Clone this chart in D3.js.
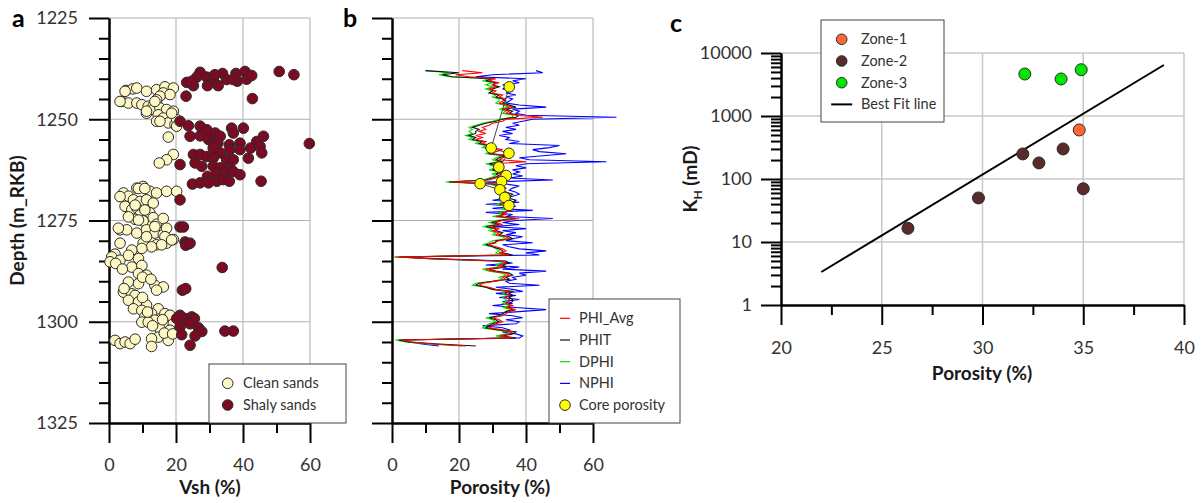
<!DOCTYPE html>
<html>
<head>
<meta charset="utf-8">
<script src="https://cdn.jsdelivr.net/npm/d3@7/dist/d3.min.js"></script>
<style>
body { margin: 0; background: #fff; }
svg { font-family: Lato, 'Open Sans', sans-serif; }
</style>
</head>
<body>
<svg id="grafico" width="1201" height="503"></svg>
<script>
// ---- panel a : Vsh vs depth ----
const cleanDepth = [1242.9, 1242.5, 1242.3, 1243.1, 1242.7, 1242.0, 1242.3, 1243.5, 1243.9, 1244.3, 1245.6, 1246.0, 1246.0, 1246.4, 1246.8, 1246.6, 1245.2, 1248.5, 1247.6, 1247.2, 1247.6, 1248.0, 1248.9, 1250.5, 1249.7, 1250.9, 1251.3, 1250.1, 1254.4, 1258.7, 1260.0, 1260.8, 1243.1, 1245.6, 1245.6, 1248.0, 1250.5, 1251.7, 1248.5,
    1266.6, 1267.0, 1267.8, 1268.2, 1267.8, 1267.8, 1268.2, 1269.0, 1269.9, 1270.3, 1269.9, 1270.7, 1271.5, 1272.3, 1271.9, 1273.6, 1273.1, 1274.7, 1275.1, 1274.3, 1275.9, 1277.3, 1277.3, 1278.1, 1277.3, 1278.1, 1278.5, 1279.7, 1280.6, 1281.0, 1280.6,
    1269.1, 1267.1, 1267.1, 1271.2, 1272.4, 1274.1, 1274.9, 1274.5, 1276.9, 1279.0, 1276.5, 1276.9, 1279.0, 1279.8, 1281.0, 1281.5, 1281.9, 1282.3, 1283.3, 1280.6,
    1284.0, 1284.8, 1283.6, 1284.4, 1286.5, 1286.1, 1288.1, 1288.5, 1290.2, 1290.6, 1291.0, 1291.4, 1292.2, 1292.7, 1293.1, 1293.5, 1294.7, 1295.1, 1295.9, 1296.8, 1297.2, 1296.8, 1298.0, 1298.0, 1298.4, 1298.8, 1299.6, 1300.1, 1300.1, 1300.5, 1301.7, 1302.1, 1303.8, 1304.6, 1304.2, 1306.1, 1304.6, 1305.4, 1305.0, 1305.4, 1304.3,
    1285.2, 1285.6, 1289.0, 1289.5, 1287.0, 1297.6, 1299.5, 1302.8, 1301.0, 1303.0, 1294.0, 1291.8];
const cleanVsh = [5.1, 7.1, 8.3, 11.2, 14.2, 16.7, 19.2, 16.2, 18.2, 15.2, 3.8, 5.8, 8.3, 9.8, 11.7, 13.2, 14.2, 11.2, 13.2, 15.2, 17.2, 19.2, 14.7, 14.2, 16.2, 17.7, 19.7, 20.2, 17.7, 19.2, 17.2, 15.0, 4.8, 3.3, 13.7, 11.2, 15.2, 20.2, 18.7,
    10.2, 8.3, 12.2, 14.2, 17.2, 20.2, 4.3, 5.8, 7.3, 9.3, 11.2, 13.2, 4.8, 6.8, 8.3, 9.3, 12.2, 7.8, 10.2, 13.2, 14.2, 3.3, 5.3, 8.3, 11.2, 13.7, 16.2, 19.2, 10.2, 14.2, 17.2,
    3.3, 8.8, 10.7, 7.8, 10.7, 5.8, 8.8, 16.2, 2.8, 11.2, 13.7, 17.2, 16.7, 18.7, 15.7, 12.7, 9.8, 6.8, 1.8, 3.3,
    0.8, 3.3, 5.8, 8.8, 6.8, 9.8, 8.8, 11.2, 5.8, 8.8, 13.7, 16.2, 14.2, 4.3, 6.8, 7.8, 5.8, 8.8, 11.2, 7.3, 9.8, 14.7, 12.7, 16.7, 18.2, 10.7, 13.7, 9.8, 11.7, 19.2, 15.2, 18.2, 14.7, 17.7, 12.7, 12.7, 1.8, 3.3, 4.8, 6.3, 7.8,
    0.3, 2.0, 10.0, 12.5, 4.0, 11.5, 16.0, 16.5, 13.0, 19.0, 10.0, 4.5];

const shalyDepth = [1238.4, 1240.9, 1241.7, 1239.6, 1240.1, 1241.7, 1241.7, 1238.7, 1240.2, 1238.7, 1240.6, 1238.2, 1240.1, 1239.2, 1238.2, 1239.0, 1244.3, 1244.9, 1239.6, 1240.2, 1239.0, 1240.6,
    1250.5, 1251.6, 1251.7, 1252.6, 1254.2, 1254.1, 1255.0, 1253.4, 1254.2, 1255.9, 1255.9, 1252.2, 1253.4, 1252.2, 1254.2, 1255.5, 1256.3, 1255.9, 1257.1, 1256.7, 1256.0, 1257.5, 1257.5, 1258.3, 1259.6, 1257.1, 1258.3, 1258.7, 1258.7, 1259.2, 1259.6, 1260.0, 1260.0, 1261.2, 1260.8, 1261.6, 1261.6, 1262.0, 1262.0, 1263.3, 1263.3, 1262.9, 1263.7, 1264.1, 1265.3, 1264.9, 1265.3, 1266.0, 1265.7, 1265.7, 1265.3,
    1269.9, 1276.6, 1276.6, 1280.3, 1280.8, 1281.1, 1280.6, 1286.6, 1292.2, 1291.8,
    1298.4, 1299.2, 1298.8, 1299.2, 1301.3, 1300.5, 1301.5, 1302.4, 1303.2, 1303.5, 1305.8, 1302.3, 1302.3, 1299.2];
const shalyVsh = [27.2, 23.2, 25.2, 29.2, 31.1, 29.4, 32.6, 33.9, 35.1, 37.9, 38.3, 40.6, 41.1, 42.6, 50.8, 55.2, 23.0, 42.8, 26.2, 37.1, 31.6, 24.7,
    21.2, 23.7, 27.2, 29.2, 24.2, 27.2, 29.7, 31.7, 33.2, 31.1, 32.5, 36.6, 37.1, 40.1, 46.1, 44.1, 35.9, 39.1, 42.3, 45.1, 59.8, 36.1, 39.1, 45.6, 41.6, 31.1, 33.2, 25.2, 27.2, 29.2, 31.1, 35.1, 37.1, 21.2, 25.7, 27.7, 31.1, 33.2, 36.1, 32.2, 34.6, 37.1, 39.1, 29.4, 32.2, 34.1, 35.9, 24.9, 27.2, 29.7, 45.4,
    21.2, 21.2, 22.2, 22.7, 23.7, 22.9, 24.2, 33.8, 21.9, 22.9,
    21.2, 22.7, 24.7, 25.5, 21.2, 24.2, 26.7, 27.7, 21.7, 25.7, 24.2, 34.6, 37.1, 20.2];

// ---- panel b : porosity logs ----
const logDepth = [1238.0, 1238.5, 1239.0, 1239.5, 1240.0, 1240.5, 1241.0, 1241.5, 1242.0, 1242.5, 1243.0, 1243.5, 1244.0, 1244.5, 1245.0, 1245.5, 1246.0, 1246.5, 1247.0, 1247.5, 1248.0, 1248.5, 1249.0, 1249.5, 1250.0, 1250.5, 1251.0, 1251.5, 1252.0, 1252.5, 1253.0, 1253.5, 1254.0, 1254.5, 1255.0, 1255.5, 1256.0, 1256.5, 1257.0, 1257.5, 1258.0, 1258.5, 1259.0, 1259.5, 1260.0, 1260.5, 1261.0, 1261.5, 1262.0, 1262.5, 1263.0, 1263.5, 1264.0, 1264.5, 1265.0, 1265.5, 1266.0, 1266.5, 1267.0, 1267.5, 1268.0, 1268.5, 1269.0, 1269.5, 1270.0, 1270.5, 1271.0, 1271.5, 1272.0, 1272.5, 1273.0, 1273.5, 1274.0, 1274.5, 1275.0, 1275.5, 1276.0, 1276.5, 1277.0, 1277.5, 1278.0, 1278.5, 1279.0, 1279.5, 1280.0, 1280.5, 1281.0, 1281.5, 1282.0, 1282.5, 1283.0, 1283.5, 1284.0, 1284.5, 1285.0, 1285.5, 1286.0, 1286.5, 1287.0, 1287.5, 1288.0, 1288.5, 1289.0, 1289.5, 1290.0, 1290.5, 1291.0, 1291.5, 1292.0, 1292.5, 1293.0, 1293.5, 1294.0, 1294.5, 1295.0, 1295.5, 1296.0, 1296.5, 1297.0, 1297.5, 1298.0, 1298.5, 1299.0, 1299.5, 1300.0, 1300.5, 1301.0, 1301.5, 1302.0, 1302.5, 1303.0, 1303.5, 1304.0, 1304.5, 1305.0, 1305.5, 1306.0];
const phiAvg = [21, 27, 19, 23, 31, 29, 32, 30, 31, 29, 31, 30, 33, 32, 34, 33, 32, 34, 36, 33, 35, 34, 37, 45, 34, 33, 30, 29, 27, 28, 26, 28, 25, 27, 25, 28, 27, 30, 29, 33, 31, 30, 36, 33, 32, 40, 30, 32, 33, 31, 34, 32, 33, 31, 29, 18, 31, 33, 34, 32, 33, 35, 34, 33, 35, 34, 32, 35, 34, 36, 33, 34, 31, 38, 33, 31, 33, 29, 32, 30, 32, 31, 34, 35, 32, 30, 29, 31, 33, 34, 32, 35, 1, 14, 33, 34, 32, 33, 28, 30, 34, 35, 33, 34, 31, 27, 26, 29, 31, 35, 34, 35, 34, 35, 35, 34, 36, 34, 37, 35, 34, 33, 30, 32, 33, 31, 30, 29, 33, 36, 35, 32, 36, 3, 6, 12, 22];
const phit = [10, 20, 15, 18, 30, 28, 31, 30, 32, 30, 30, 29, 32, 31, 33, 34, 33, 35, 37, 34, 36, 35, 38, 37, 33, 31, 28, 26, 24, 26, 25, 25, 23, 25, 24, 27, 26, 29, 28, 31, 30, 29, 34, 32, 31, 33, 29, 31, 32, 30, 33, 31, 32, 30, 28, 17, 30, 32, 33, 33, 34, 36, 35, 35, 37, 36, 34, 36, 35, 35, 34, 33, 32, 37, 32, 30, 32, 28, 31, 31, 33, 32, 35, 36, 31, 31, 28, 30, 32, 33, 33, 36, 2, 16, 34, 35, 33, 34, 29, 31, 35, 36, 34, 35, 30, 26, 25, 28, 30, 36, 35, 36, 35, 36, 36, 35, 35, 35, 36, 34, 33, 32, 29, 31, 32, 30, 29, 28, 32, 37, 36, 33, 37, 2, 5, 14, 25];
const dphi = [10, 17, 14, 17, 29, 27, 30, 28, 30, 28, 30, 29, 31, 30, 32, 32, 31, 33, 35, 32, 34, 33, 36, 36, 32, 30, 27, 25, 23, 24, 23, 24, 22, 24, 23, 26, 25, 28, 27, 30, 29, 28, 33, 31, 30, 32, 28, 30, 31, 29, 32, 30, 31, 29, 27, 16, 29, 31, 32, 31, 32, 34, 33, 32, 34, 33, 31, 34, 33, 35, 32, 33, 30, 36, 31, 29, 31, 27, 30, 29, 31, 30, 33, 34, 30, 29, 27, 30, 31, 32, 31, 34, 0.5, 13, 32, 33, 31, 32, 27, 29, 33, 34, 32, 33, 30, 25, 24, 28, 30, 34, 33, 34, 33, 34, 34, 33, 35, 33, 36, 34, 33, 32, 28, 30, 31, 29, 28, 27, 31, 35, 34, 31, 35, 1, 4, 11, 21];
const nphi = [43, 45, 30, 25, 40, 36, 38, 33, 35, 33, 36, 34, 37, 34, 36, 35, 34, 38, 46, 36, 38, 37, 40, 67, 42, 39, 36, 38, 34, 37, 33, 36, 32, 35, 34, 38, 35, 50, 47, 42, 44, 52, 45, 38, 41, 64, 40, 37, 40, 36, 38, 36, 39, 35, 48, 28, 34, 38, 36, 35, 37, 38, 36, 34, 30, 38, 28, 37, 30, 42, 28, 36, 34, 48, 37, 33, 38, 30, 40, 33, 37, 34, 39, 36, 34, 42, 33, 35, 38, 46, 40, 44, 3, 12, 30, 36, 28, 38, 33, 46, 38, 40, 36, 37, 34, 35, 44, 31, 36, 39, 31, 37, 32, 38, 33, 36, 30, 37, 46, 38, 29, 36, 39, 34, 38, 37, 27, 33, 35, 33, 37, 39, 38, 4, 5, 9, 14];

const coreDepth = [1242.0, 1257.1, 1258.4, 1261.8, 1263.9, 1265.4, 1265.9, 1267.4, 1269.3, 1271.3];
const corePhi = [35.0, 29.6, 34.9, 31.9, 34.1, 32.7, 26.3, 32.2, 33.7, 34.9];

// ---- panel c : permeability vs porosity ----
const zone1Phi = [34.8];
const zone1K = [600];
const zone2Phi = [26.3, 29.8, 32.0, 32.8, 34.0, 35.0];
const zone2K = [16.5, 50, 250, 180, 300, 70];
const zone3Phi = [32.1, 33.9, 34.9];
const zone3K = [4640, 3870, 5430];
const fitPhi = [22, 39];
const fitK = [3.34, 6450];

const svg = d3.select('#grafico');

function estiloEixo(g) {
    g.attr('font-family', null).attr('font-size', 18);
    g.select('.domain').attr('stroke', '#000').attr('stroke-width', 2);
    g.selectAll('.tick line').attr('stroke', '#000').attr('stroke-width', 2);
    g.selectAll('.tick text').attr('fill', '#333');
}

function pontos(grupo, xs, ys, fnX, fnY, cor, raio) {
    grupo.append('g')
        .selectAll('circle')
        .data(xs.map((x, i) => [x, ys[i]]))
        .enter()
        .append('circle')
        .attr('cx', d => fnX(d[0]))
        .attr('cy', d => fnY(d[1]))
        .attr('r', raio)
        .attr('fill', cor)
        .attr('stroke', '#2a2a2a')
        .attr('stroke-width', 1);
}

function legenda(x, y, w, h, itens) {
    let g = svg.append('g');
    g.append('rect')
        .attr('x', x).attr('y', y).attr('width', w).attr('height', h)
        .attr('fill', '#fff').attr('stroke', '#444').attr('stroke-width', 1);
    itens.forEach((it, i) => {
        let cy = y + it.y0 + i * 21.7;
        if (it.tipo === 'ponto') {
            g.append('circle').attr('cx', x + it.mx).attr('cy', cy).attr('r', it.r)
                .attr('fill', it.cor).attr('stroke', '#2a2a2a').attr('stroke-width', 1);
        } else {
            g.append('line').attr('x1', x + it.mx - it.lw).attr('x2', x + it.mx + it.lw)
                .attr('y1', cy).attr('y2', cy).attr('stroke', it.cor).attr('stroke-width', it.sw || 1.2);
        }
        g.append('text').attr('x', x + it.tx).attr('y', cy).attr('dy', '0.35em')
            .attr('font-size', 14.5).attr('fill', '#333').text(it.nome);
    });
}

// depth scale shared by panels a and b
const fnDepth = d3.scaleLinear().domain([1225, 1325]).range([18, 423]);
const majorDepth = [1225, 1250, 1275, 1300, 1325];
const minorDepth = [1230, 1235, 1240, 1245, 1255, 1260, 1265, 1270, 1280, 1285, 1290, 1295, 1305, 1310, 1315, 1320];

function painelProfundidade(x0, fnX, rotulos, tituloX, tituloXPos) {
    let g = svg.append('g');
    // grid
    [20, 40, 60].forEach(v => {
        g.append('line').attr('x1', fnX(v)).attr('x2', fnX(v)).attr('y1', fnDepth(1225)).attr('y2', fnDepth(1325))
            .attr('stroke', '#c8c8c8').attr('stroke-width', 1.5);
    });
    [1225, 1250, 1275, 1300].forEach(v => {
        g.append('line').attr('x1', fnX(0)).attr('x2', fnX(60)).attr('y1', fnDepth(v)).attr('y2', fnDepth(v))
            .attr('stroke', '#b0b0b0').attr('stroke-width', 1.2);
    });
    // axes
    g.append('g').attr('transform', 'translate(0,' + fnDepth(1325) + ')')
        .call(d3.axisBottom(fnX).tickValues([10, 30, 50]).tickSize(10).tickSizeOuter(0).tickFormat(''))
        .call(estiloEixo);
    g.append('g').attr('transform', 'translate(0,' + fnDepth(1325) + ')')
        .call(d3.axisBottom(fnX).tickValues([0, 20, 40, 60]).tickSize(20).tickPadding(15).tickSizeOuter(0).tickFormat(d3.format('d')))
        .call(estiloEixo);
    g.append('g').attr('transform', 'translate(' + x0 + ',0)')
        .call(d3.axisLeft(fnDepth).tickValues(minorDepth).tickSize(10).tickSizeOuter(0).tickFormat(''))
        .call(estiloEixo);
    g.append('g').attr('transform', 'translate(' + x0 + ',0)')
        .call(d3.axisLeft(fnDepth).tickValues(majorDepth).tickSize(20).tickPadding(11).tickSizeOuter(0)
            .tickFormat(rotulos ? d3.format('d') : ''))
        .call(estiloEixo);
    svg.append('text').attr('x', tituloXPos).attr('y', 494).attr('text-anchor', 'middle')
        .attr('font-size', 19).attr('font-weight', 'bold').attr('fill', '#1a1a1a').text(tituloX);
    return g;
}

// ---- panel a ----
const fnXa = d3.scaleLinear().domain([0, 60]).range([109, 310]);
let ga = painelProfundidade(109, fnXa, true, 'Vsh (%)', 210);
pontos(ga, cleanVsh, cleanDepth, fnXa, fnDepth, '#fdf8c6', 5.3);
pontos(ga, shalyVsh, shalyDepth, fnXa, fnDepth, '#7c0a22', 5.3);
svg.append('text').attr('transform', 'translate(24,' + fnDepth(1275) + ') rotate(-90)')
    .attr('text-anchor', 'middle').attr('font-size', 19).attr('font-weight', 'bold').attr('fill', '#1a1a1a')
    .text('Depth (m_RKB)');
svg.append('text').attr('x', 12).attr('y', 27).attr('font-size', 25).attr('font-weight', 'bold').text('a');
legenda(209, 364, 137, 59, [
    { tipo: 'ponto', nome: 'Clean sands', cor: '#fdf8c6', r: 5.3, mx: 18.7, tx: 34, y0: 19.3 },
    { tipo: 'ponto', nome: 'Shaly sands', cor: '#7c0a22', r: 5.3, mx: 18.7, tx: 34, y0: 19.3 }
]);

// ---- panel b ----
const fnXb = d3.scaleLinear().domain([0, 60]).range([392, 593]);
let gb = painelProfundidade(392, fnXb, false, 'Porosity (%)', 500);
const curvas = [
    { valores: nphi, cor: '#0000ff' },
    { valores: dphi, cor: '#00e000' },
    { valores: phit, cor: '#111111' },
    { valores: phiAvg, cor: '#ff0000' }
];
curvas.forEach(c => {
    gb.append('path')
        .datum(logDepth.map((d, i) => [c.valores[i], d]))
        .attr('fill', 'none')
        .attr('stroke', c.cor)
        .attr('stroke-width', 1.1)
        .attr('d', d3.line().x(d => fnXb(d[0])).y(d => fnDepth(d[1])));
});
gb.append('path')
    .datum(coreDepth.map((d, i) => [corePhi[i], d]))
    .attr('fill', 'none').attr('stroke', '#444').attr('stroke-width', 1)
    .attr('d', d3.line().x(d => fnXb(d[0])).y(d => fnDepth(d[1])));
pontos(gb, corePhi, coreDepth, fnXb, fnDepth, '#ffff00', 5.3);
svg.append('text').attr('x', 343).attr('y', 27).attr('font-size', 25).attr('font-weight', 'bold').text('b');
legenda(549, 299, 131, 124, [
    { tipo: 'linha', nome: 'PHI_Avg', cor: '#ff0000', mx: 16, lw: 5, tx: 30, y0: 19.3 },
    { tipo: 'linha', nome: 'PHIT', cor: '#111111', mx: 16, lw: 5, tx: 30, y0: 19.3 },
    { tipo: 'linha', nome: 'DPHI', cor: '#00e000', mx: 16, lw: 5, tx: 30, y0: 19.3 },
    { tipo: 'linha', nome: 'NPHI', cor: '#0000ff', mx: 16, lw: 5, tx: 30, y0: 19.3 },
    { tipo: 'ponto', nome: 'Core porosity', cor: '#ffff00', r: 5.3, mx: 16, tx: 30, y0: 19.3 }
]);

// ---- panel c ----
const fnXc = d3.scaleLinear().domain([20, 40]).range([781, 1184]);
const fnYc = d3.scaleLog().domain([1, 10000]).range([305, 53]);
let gc = svg.append('g');
[25, 30, 35, 40].forEach(v => {
    gc.append('line').attr('x1', fnXc(v)).attr('x2', fnXc(v)).attr('y1', fnYc(1)).attr('y2', fnYc(10000))
        .attr('stroke', '#c8c8c8').attr('stroke-width', 1.5);
});
[10, 100, 1000, 10000].forEach(v => {
    gc.append('line').attr('x1', fnXc(20)).attr('x2', fnXc(40)).attr('y1', fnYc(v)).attr('y2', fnYc(v))
        .attr('stroke', '#c8c8c8').attr('stroke-width', 1.5);
});
const menoresK = [];
[1, 10, 100, 1000].forEach(dec => [2, 3, 4, 5, 6, 7, 8, 9].forEach(m => menoresK.push(dec * m)));
gc.append('g').attr('transform', 'translate(0,' + fnYc(1) + ')')
    .call(d3.axisBottom(fnXc).tickValues([22.5, 27.5, 32.5, 37.5]).tickSize(10).tickSizeOuter(0).tickFormat(''))
    .call(estiloEixo);
gc.append('g').attr('transform', 'translate(0,' + fnYc(1) + ')')
    .call(d3.axisBottom(fnXc).tickValues([20, 25, 30, 35, 40]).tickSize(20).tickPadding(16).tickSizeOuter(0).tickFormat(d3.format('d')))
    .call(estiloEixo);
gc.append('g').attr('transform', 'translate(' + fnXc(20) + ',0)')
    .call(d3.axisLeft(fnYc).tickValues(menoresK).tickSize(10).tickSizeOuter(0).tickFormat(''))
    .call(estiloEixo);
gc.append('g').attr('transform', 'translate(' + fnXc(20) + ',0)')
    .call(d3.axisLeft(fnYc).tickValues([1, 10, 100, 1000, 10000]).tickSize(20).tickPadding(9).tickSizeOuter(0).tickFormat(d3.format('d')))
    .call(estiloEixo);
gc.append('path')
    .datum(fitPhi.map((p, i) => [p, fitK[i]]))
    .attr('fill', 'none').attr('stroke', '#000').attr('stroke-width', 2)
    .attr('d', d3.line().x(d => fnXc(d[0])).y(d => fnYc(d[1])));
pontos(gc, zone2Phi, zone2K, fnXc, fnYc, '#5a2b29', 6);
pontos(gc, zone1Phi, zone1K, fnXc, fnYc, '#ff6633', 6);
pontos(gc, zone3Phi, zone3K, fnXc, fnYc, '#00e600', 6);
svg.append('text').attr('x', 982).attr('y', 380).attr('text-anchor', 'middle')
    .attr('font-size', 19).attr('font-weight', 'bold').attr('fill', '#1a1a1a').text('Porosity (%)');
let tituloK = svg.append('text').attr('transform', 'translate(697,' + fnYc(100) + ') rotate(-90)')
    .attr('text-anchor', 'middle').attr('font-size', 19).attr('font-weight', 'bold').attr('fill', '#1a1a1a');
tituloK.append('tspan').text('K');
tituloK.append('tspan').attr('font-size', 12).attr('dy', 5).text('H');
tituloK.append('tspan').attr('dy', -5).text(' (mD)');
svg.append('text').attr('x', 670).attr('y', 32).attr('font-size', 25).attr('font-weight', 'bold').text('c');
legenda(821, 20, 123, 102, [
    { tipo: 'ponto', nome: 'Zone-1', cor: '#ff6633', r: 5.3, mx: 20.7, tx: 40, y0: 19.3 },
    { tipo: 'ponto', nome: 'Zone-2', cor: '#5a2b29', r: 5.3, mx: 20.7, tx: 40, y0: 19.3 },
    { tipo: 'ponto', nome: 'Zone-3', cor: '#00e600', r: 5.3, mx: 20.7, tx: 40, y0: 19.3 },
    { tipo: 'linha', nome: 'Best Fit line', cor: '#000', mx: 20.7, lw: 10.5, sw: 2, tx: 40, y0: 19.3 }
]);
</script>
</body>
</html>
